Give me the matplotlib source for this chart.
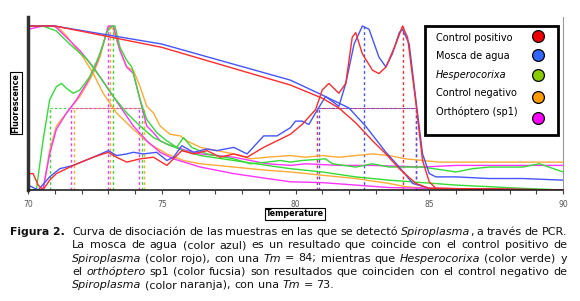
import numpy as np
import matplotlib.pyplot as plt
from matplotlib.patches import Rectangle

# Temperature (x) / normalised fluorescence (y)
# derivative (melt peak) curves
pos_t = [70.0, 70.19, 70.38, 70.56, 70.81, 71.06, 71.69, 72.44, 73.0, 73.31, 73.69, 74.19, 74.69, 75.19,
         75.75, 76.19, 76.69, 77.19, 77.69, 78.19, 78.81, 79.31, 79.81, 80.25, 80.75, 81.0, 81.25, 81.62,
         81.88, 82.12, 82.25, 82.5, 82.88, 83.12, 83.38, 83.75, 84.0, 84.19, 84.5, 84.75, 85.0, 85.25, 90.0]
pos_y = [0.10, 0.10, 0.03, 0.0, 0.06, 0.10, 0.15, 0.20, 0.23, 0.20, 0.17, 0.19, 0.20, 0.15,
         0.24, 0.22, 0.24, 0.20, 0.22, 0.20, 0.26, 0.30, 0.34, 0.40, 0.49, 0.61, 0.65, 0.59,
         0.65, 0.93, 0.96, 0.83, 0.73, 0.71, 0.75, 0.89, 1.0, 0.93, 0.53, 0.18, 0.05, 0.01, 0.0]

mos_t = [70.0, 70.38, 70.81, 71.19, 71.69, 72.44, 73.0, 73.31, 73.69, 73.94, 74.31, 74.81, 75.19, 75.44,
         75.75, 76.19, 76.69, 77.06, 77.69, 78.19, 78.81, 79.31, 79.81, 80.0, 80.25, 80.5, 80.75, 81.12,
         81.38, 81.62, 81.88, 82.19, 82.5, 82.75, 83.12, 83.38, 83.62, 83.88, 84.0, 84.25, 84.5, 84.75,
         85.0, 85.25, 86.0, 87.25, 88.5, 90.0]
mos_y = [0.03, 0.0, 0.08, 0.13, 0.15, 0.20, 0.24, 0.21, 0.22, 0.23, 0.22, 0.23, 0.18, 0.20,
         0.27, 0.23, 0.25, 0.24, 0.26, 0.22, 0.33, 0.33, 0.38, 0.42, 0.42, 0.40, 0.47, 0.57,
         0.54, 0.51, 0.65, 0.89, 1.0, 0.98, 0.81, 0.75, 0.83, 0.96, 0.98, 0.89, 0.55, 0.22,
         0.10, 0.08, 0.08, 0.07, 0.07, 0.06]

hes_t = [70.0, 70.31, 70.56, 70.81, 71.06, 71.25, 71.44, 71.69, 71.94, 72.31, 72.69, 72.94, 73.12, 73.25,
         73.44, 73.69, 73.88, 74.19, 74.44, 74.81, 75.19, 75.56, 75.81, 76.12, 76.69, 77.69, 78.31, 78.94,
         79.44, 79.81, 80.25, 81.12, 81.38, 82.25, 82.88, 83.5, 84.75, 86.0, 86.62, 87.25, 88.5, 89.12, 90.0]
hes_y = [0.0, 0.0, 0.30, 0.55, 0.63, 0.65, 0.62, 0.59, 0.61, 0.69, 0.83, 0.96, 1.0, 1.0,
         0.87, 0.79, 0.75, 0.55, 0.43, 0.35, 0.30, 0.26, 0.32, 0.26, 0.22, 0.19, 0.16, 0.17,
         0.18, 0.17, 0.18, 0.19, 0.16, 0.14, 0.16, 0.14, 0.14, 0.11, 0.13, 0.14, 0.14, 0.16, 0.11]

neg_t = [70.0, 70.56, 70.81, 71.06, 71.44, 71.94, 72.44, 72.69, 72.94, 73.06, 73.19, 73.44, 73.69, 73.94,
         74.19, 74.44, 74.69, 74.94, 75.31, 75.69, 75.94, 76.44, 77.06, 77.69, 78.31, 78.94, 79.81, 80.38,
         81.0, 81.62, 82.25, 82.88, 83.5, 84.12, 84.75, 85.38, 90.0]
neg_y = [0.0, 0.0, 0.24, 0.39, 0.47, 0.57, 0.71, 0.81, 0.96, 1.0, 0.98, 0.85, 0.75, 0.73,
         0.63, 0.51, 0.47, 0.39, 0.34, 0.33, 0.30, 0.26, 0.24, 0.22, 0.19, 0.20, 0.21, 0.20,
         0.21, 0.20, 0.21, 0.22, 0.21, 0.19, 0.18, 0.17, 0.17]

ort_t = [70.0, 70.56, 70.81, 71.06, 71.44, 71.81, 72.19, 72.56, 72.81, 73.0, 73.19, 73.44, 73.69, 73.94,
         74.19, 74.44, 74.69, 74.94, 75.19, 75.56, 75.94, 76.44, 77.06, 77.69, 78.31, 78.94, 79.81, 80.38,
         81.62, 82.88, 84.75, 86.0, 90.0]
ort_y = [0.0, 0.0, 0.22, 0.37, 0.47, 0.55, 0.65, 0.77, 0.89, 1.0, 1.0, 0.85, 0.75, 0.71,
         0.55, 0.39, 0.35, 0.30, 0.28, 0.26, 0.24, 0.22, 0.21, 0.20, 0.18, 0.16, 0.15, 0.16,
         0.15, 0.15, 0.14, 0.15, 0.15]

# raw melt curves
pos_raw_t = [70.0, 71.0, 71.94, 75.0, 79.81, 81.0, 81.62, 82.25, 82.88, 83.38, 83.88, 84.5, 85.0, 90.0]
pos_raw_y = [1.0, 1.0, 0.97, 0.87, 0.64, 0.56, 0.50, 0.41, 0.30, 0.22, 0.13, 0.04, 0.01, 0.0]
mos_raw_t = [70.0, 71.0, 75.0, 79.81, 81.12, 82.0, 82.62, 83.38, 83.88, 84.38, 85.0, 90.0]
mos_raw_y = [1.0, 1.0, 0.89, 0.67, 0.57, 0.50, 0.39, 0.23, 0.14, 0.04, 0.01, 0.0]
hes_raw_t = [70.0, 70.56, 71.06, 71.56, 72.19, 72.69, 73.19, 73.69, 74.19, 74.69, 75.19, 75.81, 76.44,
             77.69, 78.94, 79.81, 81.0, 82.25, 83.5, 84.75, 86.0, 87.25, 88.5, 90.0]
hes_raw_y = [1.0, 1.0, 0.97, 0.89, 0.80, 0.69, 0.57, 0.47, 0.39, 0.32, 0.28, 0.24, 0.21,
             0.18, 0.15, 0.13, 0.11, 0.08, 0.06, 0.045, 0.03, 0.02, 0.01, 0.0]
neg_raw_t = [70.0, 70.94, 71.2, 71.44, 72.06, 72.44, 72.81, 73.31, 73.94, 74.56, 75.19, 75.81, 76.44, 77.69,
             78.94, 79.81, 81.0, 82.25, 83.5, 84.12, 85.0, 90.0]
neg_raw_y = [1.0, 1.0, 0.98, 0.94, 0.81, 0.71, 0.59, 0.47, 0.37, 0.28, 0.22, 0.18, 0.16, 0.14,
             0.12, 0.11, 0.09, 0.07, 0.04, 0.02, 0.01, 0.0]
ort_raw_t = [70.0, 70.56, 71.0, 71.44, 71.94, 72.44, 72.94, 73.44, 73.94, 74.44, 74.94, 75.44, 76.44,
             77.69, 78.94, 79.81, 81.0, 82.25, 83.5, 85.0, 90.0]
ort_raw_y = [0.98, 1.0, 1.0, 0.93, 0.85, 0.75, 0.63, 0.51, 0.39, 0.30, 0.23, 0.19, 0.14,
             0.10, 0.07, 0.05, 0.045, 0.03, 0.015, 0.01, 0.0]

# Tm and half-height limits per sample
tm = [84.0, 82.56, 73.19, 73.06, 73.0]
tm_peak = [1.0, 1.0, 1.0, 1.0, 1.0]
half_lo = [80.81, 80.88, 70.81, 71.71, 71.6]
half_hi = [84.5, 84.5, 74.25, 74.34, 74.16]

names = ['Control positivo', 'Mosca de agua', 'Hesperocorixa', 'Control negativo', 'Orthóptero (sp1)']
line_colors = ['#ff2a2a', '#4455ff', '#33dd33', '#ffaa33', '#ff33ff']
dot_colors = ['#ee0000', '#3366ff', '#88cc00', '#ff9900', '#ff00ff']

W, H = 580, 301
fig = plt.figure(figsize=(W / 100, H / 100), dpi=100)
ax = fig.add_axes([28 / W, 1 - 190 / H, 535 / W, 173 / H])

curves = [(pos_t, pos_y, pos_raw_t, pos_raw_y), (mos_t, mos_y, mos_raw_t, mos_raw_y),
          (hes_t, hes_y, hes_raw_t, hes_raw_y), (neg_t, neg_y, neg_raw_t, neg_raw_y),
          (ort_t, ort_y, ort_raw_t, ort_raw_y)]

for i in range(5):
    c = line_colors[i]
    ax.vlines(tm[i], 0, tm_peak[i], colors=c, linestyles=(0, (2, 2)), lw=1)
    ax.vlines([half_lo[i], half_hi[i]], 0, 0.5, colors=c, linestyles=(0, (2, 2)), lw=1)
    ax.hlines(0.5, half_lo[i], half_hi[i], colors=c, linestyles=(0, (2, 2)), lw=0.8)

for i in [3, 4, 2, 1, 0]:
    t, y, rt, ry = curves[i]
    ax.plot(rt, ry, color=line_colors[i], lw=1)
    ax.plot(t, y, color=line_colors[i], lw=1)

ax.set_xlim(70, 90)
ax.set_ylim(0, 1.055)
ax.spines['top'].set_visible(False)
ax.spines['right'].set_color('#999999')
ax.spines['right'].set_linewidth(0.8)
ax.spines['left'].set_color('#333333')
ax.spines['left'].set_linewidth(2.5)
ax.spines['bottom'].set_color('#222222')
ax.spines['bottom'].set_linewidth(1.2)
ax.set_xticks([70, 75, 80, 85, 90])
ax.set_xticks(np.arange(70, 91, 1), minor=True)
ax.tick_params(axis='x', which='both', direction='out', length=3, width=0.8, color='#444444',
               labelsize=5.5, labelcolor='#555555', pad=4)
ax.set_yticks(np.arange(0.1, 1.05, 0.1))
ax.tick_params(axis='y', direction='in', length=2, width=0.8, color='white', labelleft=False)

box = dict(boxstyle='square,pad=0.15', fc='white', ec='black', lw=0.8)
fig.text(16 / W, 1 - 103 / H, 'Fluorescence', rotation=90, ha='center', va='center',
         fontsize=5.8, fontweight='bold', bbox=box)
fig.text(295 / W, 1 - 214 / H, 'Temperature', ha='center', va='center',
         fontsize=5.8, fontweight='bold', bbox=box)

# legend box drawn by hand
fig.patches.append(Rectangle((425 / W, 1 - 135 / H), 133 / W, 109 / H, transform=fig.transFigure,
                             fc='white', ec='black', lw=2, zorder=5))
leg_y = [38, 56, 75, 93, 112]
dot_y = [36, 55, 75, 97, 118]
for i in range(5):
    fig.text(436 / W, 1 - leg_y[i] / H, names[i], ha='left', va='center', fontsize=7,
             style='italic' if i == 2 else 'normal', zorder=6)
    fig.lines.append(plt.Line2D([538 / W], [1 - dot_y[i] / H], transform=fig.transFigure, marker='o',
                                markersize=8.5, mfc=dot_colors[i], mec='black', mew=0.9, zorder=6))

# caption, justified word by word
caption = [
    "Curva de disociación de las muestras en las que se detectó *Spiroplasma*, a través de PCR.",
    "La mosca de agua (color azul) es un resultado que coincide con el control positivo de",
    "*Spiroplasma* (color rojo), con una *Tm* = 84; mientras que *Hesperocorixa* (color verde) y",
    "el *orthóptero* sp1 (color fucsia) son resultados que coinciden con el control negativo de",
    "*Spiroplasma* (color naranja), con una *Tm* = 73.",
]
cap_y = [232, 245.5, 258.5, 272, 285.5]
cap_size = 8
fig.text(10 / W, 1 - cap_y[0] / H, 'Figura 2.', fontsize=7.8, fontweight='bold',
         ha='left', va='center', color='#111111')

renderer = fig.canvas.get_renderer()


def width_px(s, italic):
    t = fig.text(0, 0, s, fontsize=cap_size, style='italic' if italic else 'normal')
    w = t.get_window_extent(renderer).width
    t.remove()
    return w


space = width_px('x x', False) - width_px('xx', False)
x0, x1 = 72, 567
for k, line in enumerate(caption):
    words = []
    italic = False
    for w in line.split(' '):
        segs = []
        for j, p in enumerate(w.split('*')):
            if j > 0:
                italic = not italic
            if p:
                segs.append((p, italic))
        words.append(segs)
    widths = [[width_px(s, it) for s, it in segs] for segs in words]
    total = sum(sum(ws) for ws in widths)
    if k < len(caption) - 1:
        gap = (x1 - x0 - total) / (len(words) - 1)
    else:
        gap = space
    x = x0
    for segs, ws in zip(words, widths):
        for (s, it), w in zip(segs, ws):
            fig.text(x / W, 1 - cap_y[k] / H, s, fontsize=cap_size, ha='left', va='center',
                     style='italic' if it else 'normal', color='#111111')
            x += w
        x += gap

fig.savefig('out.png', dpi=100)
